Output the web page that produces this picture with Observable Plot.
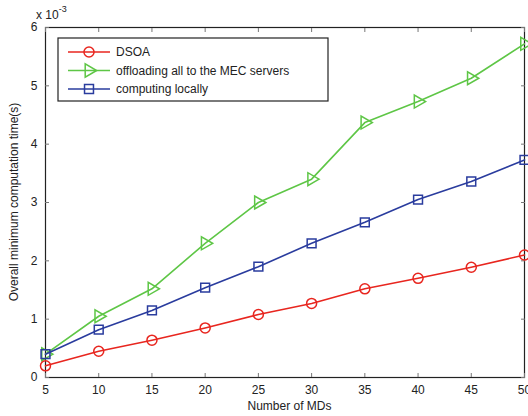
<!DOCTYPE html>
<html><head><meta charset="utf-8">
<script src="https://cdn.jsdelivr.net/npm/d3@7"></script>
<script src="https://cdn.jsdelivr.net/npm/@observablehq/plot@0.6"></script>
<style>
body{margin:0;background:#fff;font-family:"Liberation Sans",Arial,sans-serif;}
#c{position:relative;width:528px;height:416px;}
#exp{position:absolute;left:36px;top:6px;font-size:12px;color:#222;z-index:2;}
</style></head><body>
<div id="c"><div id="exp">x 10<sup style="font-size:9px;position:relative;top:-2px">-3</sup></div></div>
<script>
const mds = [5,10,15,20,25,30,35,40,45,50];
const dsoa = [0.20,0.45,0.64,0.85,1.08,1.27,1.52,1.70,1.89,2.10];
const offloadAll = [0.40,1.05,1.52,2.30,3.00,3.40,4.37,4.73,5.13,5.72];
const local = [0.40,0.82,1.15,1.54,1.90,2.30,2.66,3.05,3.36,3.73];
const seriesNames = ["DSOA","offloading all to the MEC servers","computing locally"];
const xTicks = [5,10,15,20,25,30,35,40,45,50];
const yTicks = [0,1,2,3,4,5,6];
const colors = ["#e8261f","#5ec646","#2a3c9e"];
const symbols = ["circle","triangle","square"];
const rotates = [0,90,0];

const all = [dsoa, offloadAll, local];
const data = [];
all.forEach((vals,si)=>vals.forEach((v,i)=>data.push({x:mds[i],y:v,s:si})));

const blank = () => "";
const marks = [
  Plot.frame({stroke:"#222",strokeWidth:1.2}),
  Plot.axisX(xTicks,{anchor:"bottom",tickSize:0,tickPadding:8,fontSize:12,label:null,tickFormat:d=>String(d)}),
  Plot.axisX(xTicks,{anchor:"bottom",tickSize:-4,tickFormat:blank,label:null,stroke:"#777"}),
  Plot.axisX(xTicks,{anchor:"top",tickSize:-4,tickFormat:blank,label:null,stroke:"#777"}),
  Plot.axisY(yTicks,{anchor:"left",tickSize:0,tickPadding:8,fontSize:12,label:null,tickFormat:d=>String(d)}),
  Plot.axisY(yTicks,{anchor:"left",tickSize:-4,tickFormat:blank,label:null,stroke:"#777"}),
  Plot.axisY(yTicks,{anchor:"right",tickSize:-4,tickFormat:blank,label:null,stroke:"#777"})
];
[1,2,0].forEach(si=>{
  const d = data.filter(r=>r.s===si);
  marks.push(Plot.line(d,{x:"x",y:"y",stroke:colors[si],strokeWidth:1.6}));
  marks.push(Plot.dot(d,{x:"x",y:"y",stroke:colors[si],symbol:()=>symbols[si],r:si===1?4.8:5,rotate:rotates[si],strokeWidth:1.5,fill:"none"}));
});

const plot = Plot.plot({
  width:528,height:416,
  marginLeft:45,marginRight:4,marginTop:27,marginBottom:39,
  style:{fontFamily:"Liberation Sans, Arial, sans-serif",fontSize:"12px",color:"#222",background:"#fff"},
  x:{domain:[5,50],axis:null},
  y:{domain:[0,6],axis:null},
  marks
});
const c = document.getElementById("c");
c.appendChild(plot);
plot.style.position="absolute";plot.style.left="0";plot.style.top="0";

const svg = d3.select(plot);
svg.append("text").attr("x",(45+524)/2+5).attr("y",410).attr("text-anchor","middle")
  .attr("font-size","12px").attr("fill","#222").text("Number of MDs");
svg.append("text").attr("transform","translate(18,"+((27+377)/2)+") rotate(-90)").attr("text-anchor","middle")
  .attr("font-size","12px").attr("fill","#222").text("Overall minimum computation time(s)");

const lg = svg.append("g").attr("transform","translate(58,38)");
lg.append("rect").attr("width",270).attr("height",63).attr("fill","#fff").attr("stroke","#222").attr("stroke-width",1.2);
seriesNames.forEach((n,i)=>{
  const yy = 14 + i*18.5;
  lg.append("line").attr("x1",10).attr("x2",52).attr("y1",yy).attr("y2",yy).attr("stroke",colors[i]).attr("stroke-width",1.6);
  const sym = d3.symbol().type([d3.symbolCircle,d3.symbolTriangle,d3.symbolSquare][i]).size(i===1?75:80)();
  lg.append("path").attr("d",sym).attr("transform","translate(31,"+yy+") rotate("+rotates[i]+")")
    .attr("fill","none").attr("stroke",colors[i]).attr("stroke-width",1.5);
  lg.append("text").attr("x",58).attr("y",yy+4).attr("text-anchor","start").attr("font-size","12px").attr("fill","#222").text(n);
});
</script>
</body></html>
